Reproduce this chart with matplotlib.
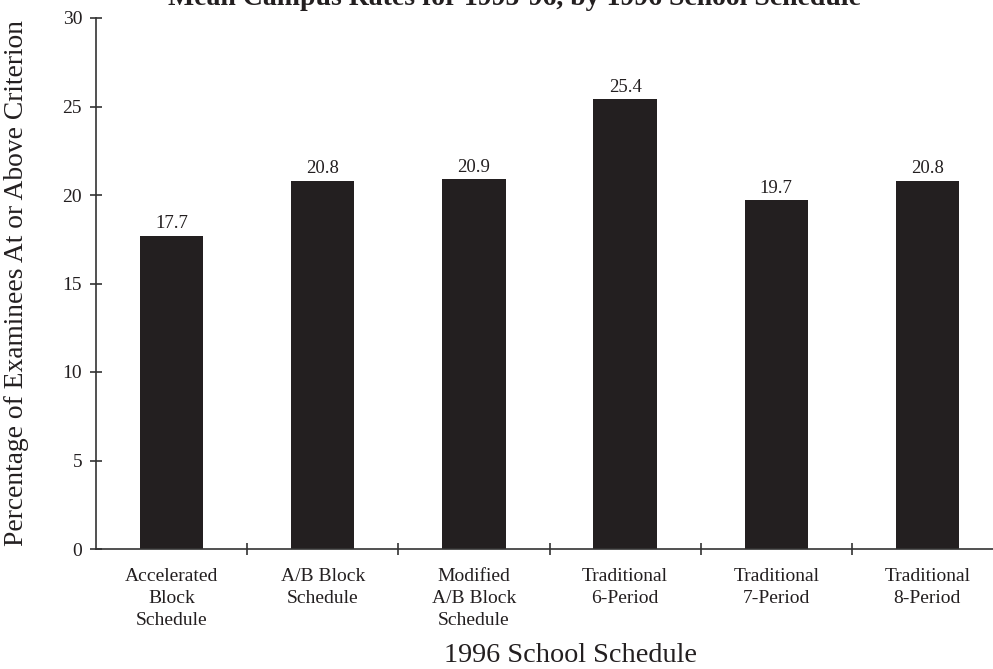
import matplotlib
matplotlib.use("Agg")
import matplotlib.pyplot as plt
import numpy as np

schedules = ["Accelerated\nBlock\nSchedule", "A/B Block\nSchedule",
             "Modified\nA/B Block\nSchedule", "Traditional\n6-Period",
             "Traditional\n7-Period", "Traditional\n8-Period"]
rates = [17.7, 20.8, 20.9, 25.4, 19.7, 20.8]
yticks = [0, 5, 10, 15, 20, 25, 30]

plt.rcParams['font.family'] = ['Liberation Serif', 'DejaVu Serif']
ink = "#231f20"
axc = "#333333"

fig = plt.figure(figsize=(9.93, 6.69), dpi=100)
# axes runs past the right edge of the figure, as in the original
ax = fig.add_axes([96/993, 1 - 549/669, (1003 - 96)/993, (549 - 18)/669])

x = np.arange(len(rates))
bars = ax.bar(x, rates, width=0.42, color=ink, zorder=2)
for b, v in zip(bars, rates):
    ax.text(b.get_x() + b.get_width()/2, v + 0.2, f"{v:.1f}",
            ha="center", va="bottom", fontsize=13.5, color=ink)

ax.set_xlim(-0.5, len(rates) - 0.5)
ax.set_ylim(0, 30)
ax.set_yticks(yticks)
ax.set_xticks(x)
ax.set_xticklabels(schedules, fontsize=14, color=ink, linespacing=1.38)
ax.set_xticks(np.arange(0.5, len(rates) - 0.5, 1.0), minor=True)

ax.tick_params(axis="x", which="major", length=0, pad=14)
ax.tick_params(axis="x", which="minor", direction="inout", length=9,
               width=1.2, color=axc)
ax.tick_params(axis="y", direction="inout", length=8, width=1.2, color=axc,
               labelsize=14, labelcolor=ink, pad=6)

for s in ["top", "right"]:
    ax.spines[s].set_visible(False)
for s in ["left", "bottom"]:
    ax.spines[s].set_color(axc)
    ax.spines[s].set_linewidth(1.2)

fig.text(514/993, 1 - 5/669, "Mean Campus Rates for 1995-96, by 1996 School Schedule",
         ha="center", va="baseline", fontsize=20, fontweight="bold", color=ink)
fig.text(17/993, 1 - 283/669, "Percentage of Examinees At or Above Criterion",
         rotation=90, ha="center", va="center", fontsize=19.8, color=ink)
fig.text(570/993, 1 - 655/669, "1996 School Schedule",
         ha="center", va="center", fontsize=20.3, color=ink)

fig.savefig("out.png", dpi=100)
